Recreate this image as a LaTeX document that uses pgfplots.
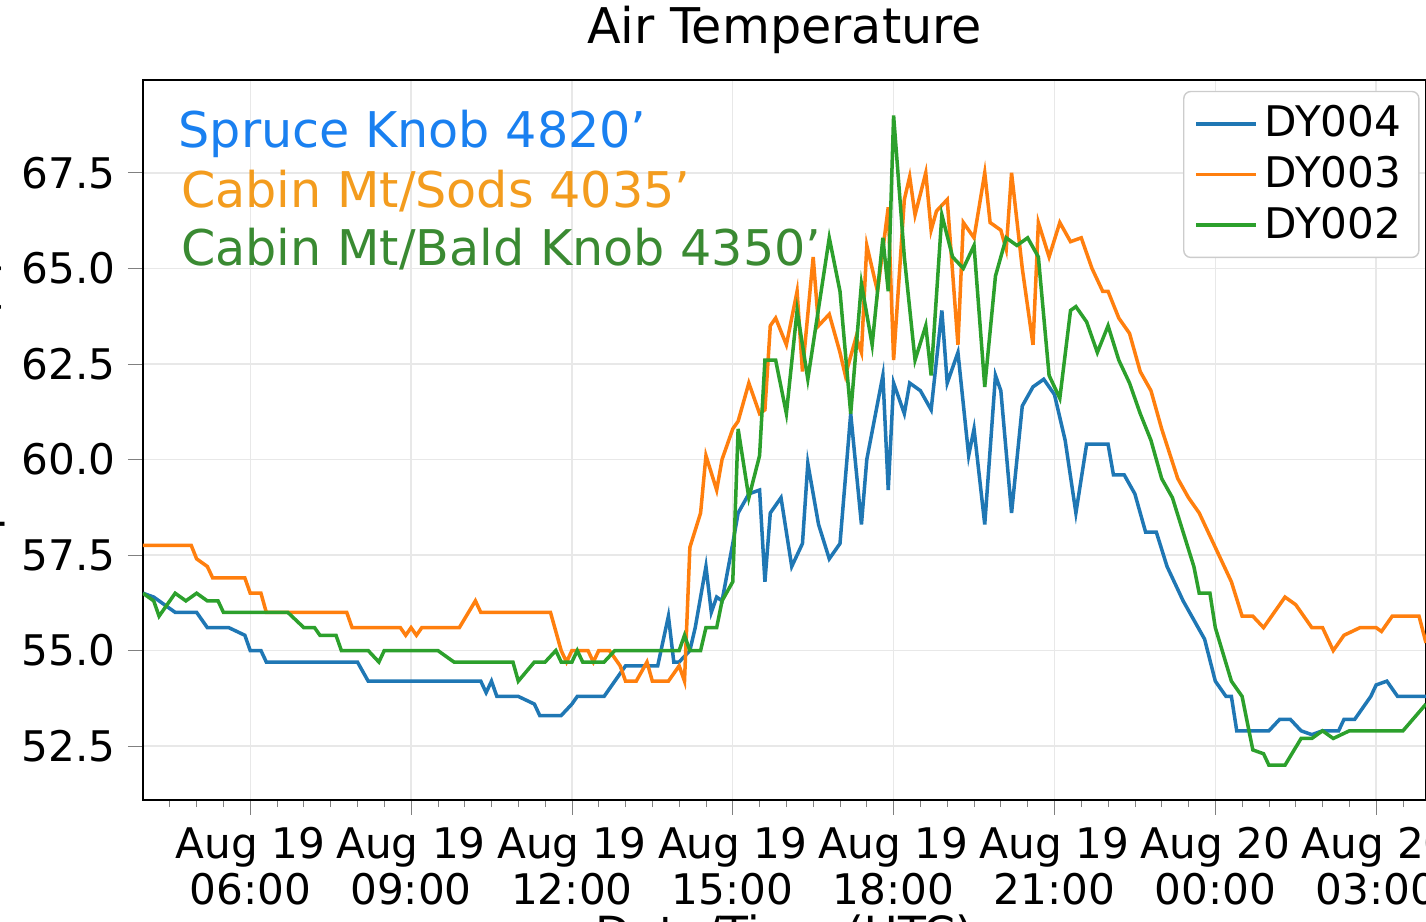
\documentclass[border=0pt]{standalone}
\usepackage{pgfplots}
\pgfplotsset{compat=1.18}
\usepackage{fontspec}
\setmainfont{DejaVu Sans}
\definecolor{c1}{HTML}{1F77B4}
\definecolor{c2}{HTML}{FF7F0E}
\definecolor{c3}{HTML}{2CA02C}
\begin{document}
\begin{tikzpicture}
\useasboundingbox (-1.43,-1.22) rectangle (12.83,8.0);
\begin{axis}[scale only axis, width=12.83cm, height=7.2cm,
 xmin=4.0, xmax=27.93, ymin=51.09, ymax=69.93,
 xtick={6,9,12,15,18,21,24,27},
 xticklabels={Aug 19\\06:00,Aug 19\\09:00,Aug 19\\12:00,Aug 19\\15:00,Aug 19\\18:00,Aug 19\\21:00,Aug 20\\00:00,Aug 20\\03:00},
 xticklabel style={align=center, font=\fontsize{12}{13}\selectfont},
 minor xtick={4.5,5,5.5,6.5,7,7.5,8,8.5,9.5,10,10.5,11,11.5,12.5,13,13.5,14,14.5,15.5,16,16.5,17,17.5,18.5,19,19.5,20,20.5,21.5,22,22.5,23,23.5,24.5,25,25.5,26,26.5,27.5},
 minor tick length=2pt,
 ytick={52.5,55,57.5,60,62.5,65,67.5},
 /pgf/number format/fixed, /pgf/number format/fixed zerofill, /pgf/number format/precision=1, /pgf/number format/assume math mode=true,
 yticklabel style={font=\fontsize{12}{13}\selectfont},
 grid=major, major grid style={gray!18},
 tick align=outside, tick pos=left,
 title={Air Temperature}, title style={font=\fontsize{14}{15}\selectfont, yshift=-2pt},
 xlabel={Date/Time (UTC)}, ylabel={Temperature (F)},
 label style={font=\fontsize{13}{14}\selectfont},
 xlabel style={yshift=4pt}, ylabel style={yshift=-2pt},
 legend style={at={(0.995,0.985)}, anchor=north east, font=\fontsize{12}{13}\selectfont, draw=gray!40, rounded corners=2pt},
 legend cell align=left,
 every axis plot/.append style={line width=1pt},
]
\addplot[c1] coordinates {(4.0,56.5)(4.2,56.4)(4.4,56.2)(4.6,56.0)(5.0,56.0)(5.2,55.6)(5.6,55.6)(5.9,55.4)(6.0,55.0)(6.2,55.0)(6.3,54.7)(8.0,54.7)(8.2,54.2)(10.3,54.2)(10.4,53.9)(10.5,54.2)(10.6,53.8)(11.0,53.8)(11.3,53.6)(11.4,53.3)(11.8,53.3)(12.0,53.6)(12.1,53.8)(12.6,53.8)(12.8,54.2)(13.0,54.6)(13.6,54.6)(13.8,55.9)(13.9,54.7)(14.0,54.7)(14.2,55.0)(14.3,55.6)(14.5,57.2)(14.6,56.0)(14.7,56.4)(14.8,56.3)(15.0,57.8)(15.1,58.6)(15.3,59.1)(15.5,59.2)(15.6,56.8)(15.7,58.6)(15.9,59.0)(16.1,57.2)(16.3,57.8)(16.4,59.9)(16.6,58.3)(16.8,57.4)(17.0,57.8)(17.2,61.2)(17.4,58.3)(17.5,60.0)(17.8,62.2)(17.9,59.2)(18.0,62.0)(18.2,61.2)(18.3,62.0)(18.5,61.8)(18.7,61.3)(18.9,63.9)(19.0,62.0)(19.2,62.8)(19.4,60.1)(19.5,60.8)(19.7,58.3)(19.9,62.2)(20.0,61.8)(20.2,58.6)(20.4,61.4)(20.6,61.9)(20.8,62.1)(21.0,61.7)(21.2,60.5)(21.4,58.6)(21.6,60.4)(22.0,60.4)(22.1,59.6)(22.3,59.6)(22.5,59.1)(22.7,58.1)(22.9,58.1)(23.1,57.2)(23.4,56.3)(23.8,55.3)(24.0,54.2)(24.2,53.8)(24.3,53.8)(24.4,52.9)(25.0,52.9)(25.2,53.2)(25.4,53.2)(25.6,52.9)(25.8,52.8)(26.0,52.9)(26.3,52.9)(26.4,53.2)(26.6,53.2)(26.8,53.6)(26.9,53.8)(27.0,54.1)(27.2,54.2)(27.4,53.8)(27.93,53.8)};
\addlegendentry{DY004}
\addplot[c2] coordinates {(4.0,57.75)(4.9,57.75)(5.0,57.4)(5.2,57.2)(5.3,56.9)(5.9,56.9)(6.0,56.5)(6.2,56.5)(6.3,56.0)(7.0,56.0)(7.8,56.0)(7.9,55.6)(8.8,55.6)(8.9,55.4)(9.0,55.6)(9.1,55.4)(9.2,55.6)(9.9,55.6)(10.2,56.3)(10.3,56.0)(11.6,56.0)(11.8,55.0)(11.9,54.7)(12.0,55.0)(12.3,55.0)(12.4,54.7)(12.5,55.0)(12.7,55.0)(12.9,54.6)(13.0,54.2)(13.2,54.2)(13.4,54.7)(13.5,54.2)(13.8,54.2)(14.0,54.6)(14.1,54.2)(14.2,57.7)(14.4,58.6)(14.5,60.1)(14.7,59.2)(14.8,60.0)(15.0,60.8)(15.1,61.0)(15.3,62.0)(15.5,61.2)(15.6,61.3)(15.7,63.5)(15.8,63.7)(16.0,63.0)(16.2,64.4)(16.3,62.3)(16.5,65.3)(16.6,63.5)(16.8,63.8)(17.0,62.8)(17.1,62.2)(17.3,63.2)(17.4,62.8)(17.5,65.6)(17.7,64.4)(17.9,66.6)(18.0,62.6)(18.2,66.8)(18.3,67.4)(18.4,66.4)(18.6,67.5)(18.7,66.0)(18.8,66.5)(19.0,66.8)(19.2,63.0)(19.3,66.2)(19.5,65.8)(19.7,67.5)(19.8,66.2)(20.0,66.0)(20.1,65.5)(20.2,67.5)(20.4,65.0)(20.6,63.0)(20.7,66.2)(20.9,65.3)(21.1,66.2)(21.3,65.7)(21.5,65.8)(21.7,65.0)(21.9,64.4)(22.0,64.4)(22.2,63.7)(22.4,63.3)(22.6,62.3)(22.8,61.8)(23.0,60.8)(23.3,59.5)(23.5,59.0)(23.7,58.6)(24.0,57.7)(24.3,56.8)(24.5,55.9)(24.7,55.9)(24.9,55.6)(25.1,56.0)(25.3,56.4)(25.5,56.2)(25.8,55.6)(26.0,55.6)(26.2,55.0)(26.4,55.4)(26.7,55.6)(27.0,55.6)(27.1,55.5)(27.3,55.9)(27.8,55.9)(27.93,55.2)};
\addlegendentry{DY003}
\addplot[c3] coordinates {(4.0,56.5)(4.2,56.3)(4.3,55.9)(4.5,56.3)(4.6,56.5)(4.8,56.3)(5.0,56.5)(5.2,56.3)(5.4,56.3)(5.5,56.0)(6.7,56.0)(7.0,55.6)(7.2,55.6)(7.3,55.4)(7.6,55.4)(7.7,55.0)(8.2,55.0)(8.4,54.7)(8.5,55.0)(9.5,55.0)(9.8,54.7)(10.9,54.7)(11.0,54.2)(11.3,54.7)(11.5,54.7)(11.7,55.0)(11.8,54.7)(12.0,54.7)(12.1,55.0)(12.2,54.7)(12.6,54.7)(12.8,55.0)(14.0,55.0)(14.1,55.4)(14.2,55.0)(14.4,55.0)(14.5,55.6)(14.7,55.6)(14.8,56.3)(15.0,56.8)(15.1,60.8)(15.3,59.0)(15.5,60.1)(15.6,62.6)(15.8,62.6)(16.0,61.2)(16.2,63.9)(16.4,62.1)(16.8,65.8)(17.0,64.4)(17.2,61.2)(17.4,64.6)(17.6,63.0)(17.8,65.8)(17.9,64.4)(18.0,69.0)(18.2,65.3)(18.4,62.6)(18.6,63.5)(18.7,62.2)(18.9,66.4)(19.1,65.3)(19.3,65.0)(19.5,65.6)(19.7,61.9)(19.9,64.8)(20.1,65.8)(20.3,65.6)(20.5,65.8)(20.7,65.3)(20.9,62.2)(21.1,61.6)(21.3,63.9)(21.4,64.0)(21.6,63.6)(21.8,62.8)(22.0,63.5)(22.2,62.6)(22.4,62.0)(22.6,61.2)(22.8,60.5)(23.0,59.5)(23.2,59.0)(23.4,58.1)(23.6,57.2)(23.7,56.5)(23.9,56.5)(24.0,55.6)(24.3,54.2)(24.5,53.8)(24.7,52.4)(24.9,52.3)(25.0,52.0)(25.3,52.0)(25.6,52.7)(25.8,52.7)(26.0,52.9)(26.2,52.7)(26.5,52.9)(27.5,52.9)(27.93,53.6)};
\addlegendentry{DY002}
\node[anchor=west, font=\fontsize{14}{15}\selectfont] at (rel axis cs:0.018,0.925) {\textcolor[HTML]{1A80F0}{Spruce Knob 4820'}};
\node[anchor=west, font=\fontsize{14}{15}\selectfont] at (rel axis cs:0.020,0.845) {\textcolor[HTML]{F39C1E}{Cabin Mt/Sods 4035'}};
\node[anchor=west, font=\fontsize{14}{15}\selectfont] at (rel axis cs:0.020,0.765) {\textcolor[HTML]{3A8A32}{Cabin Mt/Bald Knob 4350'}};
\end{axis}
\end{tikzpicture}
\end{document}
